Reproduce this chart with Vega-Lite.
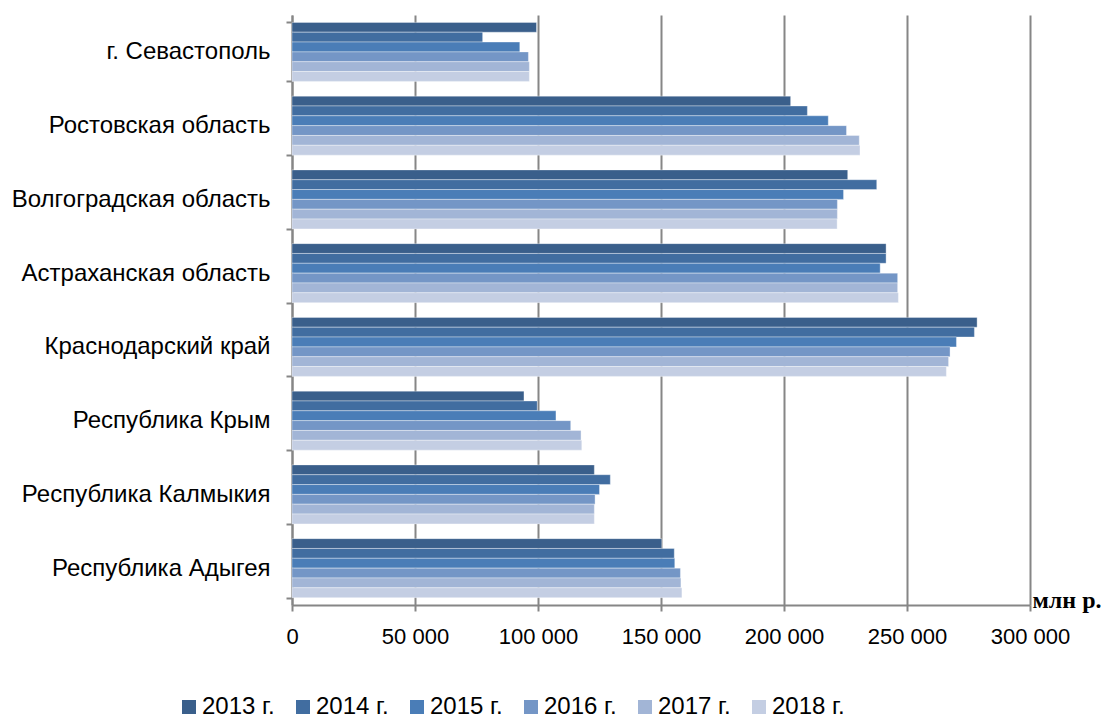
{
  "$schema": "https://vega.github.io/schema/vega-lite/v6.json",
  "autosize": {"type": "none"},
  "padding": {"left": 292, "top": 15, "right": 78, "bottom": 113},
  "width": 738,
  "height": 590,
  "background": "white",
  "data": {"values": [
    {"region": "г. Севастополь ", "year": "2013 г.", "value": 99400},
    {"region": "г. Севастополь ", "year": "2014 г.", "value": 77500},
    {"region": "г. Севастополь ", "year": "2015 г.", "value": 92600},
    {"region": "г. Севастополь ", "year": "2016 г.", "value": 96100},
    {"region": "г. Севастополь ", "year": "2017 г.", "value": 96500},
    {"region": "г. Севастополь ", "year": "2018 г.", "value": 96500},
    {"region": "Ростовская область", "year": "2013 г.", "value": 202700},
    {"region": "Ростовская область", "year": "2014 г.", "value": 209500},
    {"region": "Ростовская область", "year": "2015 г.", "value": 218000},
    {"region": "Ростовская область", "year": "2016 г.", "value": 225400},
    {"region": "Ростовская область", "year": "2017 г.", "value": 230600},
    {"region": "Ростовская область", "year": "2018 г.", "value": 230900},
    {"region": "Волгоградская область", "year": "2013 г.", "value": 225900},
    {"region": "Волгоградская область", "year": "2014 г.", "value": 237700},
    {"region": "Волгоградская область", "year": "2015 г.", "value": 224200},
    {"region": "Волгоградская область", "year": "2016 г.", "value": 221700},
    {"region": "Волгоградская область", "year": "2017 г.", "value": 221700},
    {"region": "Волгоградская область", "year": "2018 г.", "value": 221600},
    {"region": "Астраханская область", "year": "2013 г.", "value": 241500},
    {"region": "Астраханская область", "year": "2014 г.", "value": 241500},
    {"region": "Астраханская область", "year": "2015 г.", "value": 239100},
    {"region": "Астраханская область", "year": "2016 г.", "value": 246200},
    {"region": "Астраханская область", "year": "2017 г.", "value": 246200},
    {"region": "Астраханская область", "year": "2018 г.", "value": 246500},
    {"region": "Краснодарский край", "year": "2013 г.", "value": 278500},
    {"region": "Краснодарский край", "year": "2014 г.", "value": 277400},
    {"region": "Краснодарский край", "year": "2015 г.", "value": 270100},
    {"region": "Краснодарский край", "year": "2016 г.", "value": 267500},
    {"region": "Краснодарский край", "year": "2017 г.", "value": 266900},
    {"region": "Краснодарский край", "year": "2018 г.", "value": 266000},
    {"region": "Республика Крым ", "year": "2013 г.", "value": 94300},
    {"region": "Республика Крым ", "year": "2014 г.", "value": 99700},
    {"region": "Республика Крым ", "year": "2015 г.", "value": 107300},
    {"region": "Республика Крым ", "year": "2016 г.", "value": 113300},
    {"region": "Республика Крым ", "year": "2017 г.", "value": 117500},
    {"region": "Республика Крым ", "year": "2018 г.", "value": 117800},
    {"region": "Республика Калмыкия", "year": "2013 г.", "value": 122900},
    {"region": "Республика Калмыкия", "year": "2014 г.", "value": 129400},
    {"region": "Республика Калмыкия", "year": "2015 г.", "value": 125000},
    {"region": "Республика Калмыкия", "year": "2016 г.", "value": 123200},
    {"region": "Республика Калмыкия", "year": "2017 г.", "value": 122900},
    {"region": "Республика Калмыкия", "year": "2018 г.", "value": 122900},
    {"region": "Республика Адыгея", "year": "2013 г.", "value": 150300},
    {"region": "Республика Адыгея", "year": "2014 г.", "value": 155400},
    {"region": "Республика Адыгея", "year": "2015 г.", "value": 155600},
    {"region": "Республика Адыгея", "year": "2016 г.", "value": 157900},
    {"region": "Республика Адыгея", "year": "2017 г.", "value": 158100},
    {"region": "Республика Адыгея", "year": "2018 г.", "value": 158500}
  ]},
  "mark": {"type": "bar", "stroke": "#ffffff", "strokeWidth": 0.6, "strokeOpacity": 0.6},
  "encoding": {
    "y": {
      "field": "region",
      "type": "nominal",
      "sort": ["г. Севастополь ", "Ростовская область", "Волгоградская область", "Астраханская область", "Краснодарский край", "Республика Крым ", "Республика Калмыкия", "Республика Адыгея"],
      "scale": {"paddingInner": 0.2, "paddingOuter": 0.1},
      "axis": {
        "title": null,
        "domainColor": "#868686",
        "domainWidth": 2,
        "tickColor": "#868686",
        "tickWidth": 2,
        "tickSize": 6,
        "tickBand": "extent",
        "labelFont": "Liberation Sans",
        "labelFontSize": 24,
        "labelColor": "#000000",
        "labelPadding": 16,
        "labelLimit": 400,
        "grid": false
      }
    },
    "yOffset": {"field": "year", "type": "nominal", "sort": "ascending"},
    "x": {
      "field": "value",
      "type": "quantitative",
      "scale": {"domain": [0, 300000], "nice": false},
      "axis": {
        "values": [0, 50000, 100000, 150000, 200000, 250000, 300000],
        "labelExpr": "replace(format(datum.value, ','), regexp(',', 'g'), ' ')",
        "labelFont": "Liberation Sans",
        "labelFontSize": 22,
        "labelColor": "#000000",
        "labelPadding": 15,
        "labelFlush": false,
        "labelOverlap": false,
        "domainColor": "#868686",
        "domainWidth": 2,
        "tickColor": "#868686",
        "tickWidth": 2,
        "tickSize": 6,
        "grid": true,
        "gridColor": "#868686",
        "gridWidth": 2,
        "title": "млн р.",
        "titleFont": "Liberation Serif",
        "titleFontSize": 24,
        "titleFontWeight": "bold",
        "titleColor": "#000000",
        "titleAnchor": null,
        "titleAlign": "left",
        "titleBaseline": "alphabetic",
        "titleX": 740,
        "titleY": 2
      }
    },
    "color": {
      "field": "year",
      "type": "nominal",
      "scale": {
        "domain": ["2013 г.", "2014 г.", "2015 г.", "2016 г.", "2017 г.", "2018 г."],
        "range": ["#3A5F8B", "#416DA0", "#4A7DB7", "#7496C6", "#A2B5D6", "#C4CEE3"]
      },
      "legend": {
        "title": null,
        "orient": "none",
        "direction": "horizontal",
        "legendX": -115,
        "legendY": 680,
        "symbolType": "square",
        "symbolSize": 196,
        "symbolStrokeWidth": 0,
        "labelFont": "Liberation Sans",
        "labelFontSize": 24,
        "labelColor": "#000000",
        "labelOffset": 1,
        "columnPadding": 16
      }
    }
  },
  "config": {"view": {"stroke": null}}
}
